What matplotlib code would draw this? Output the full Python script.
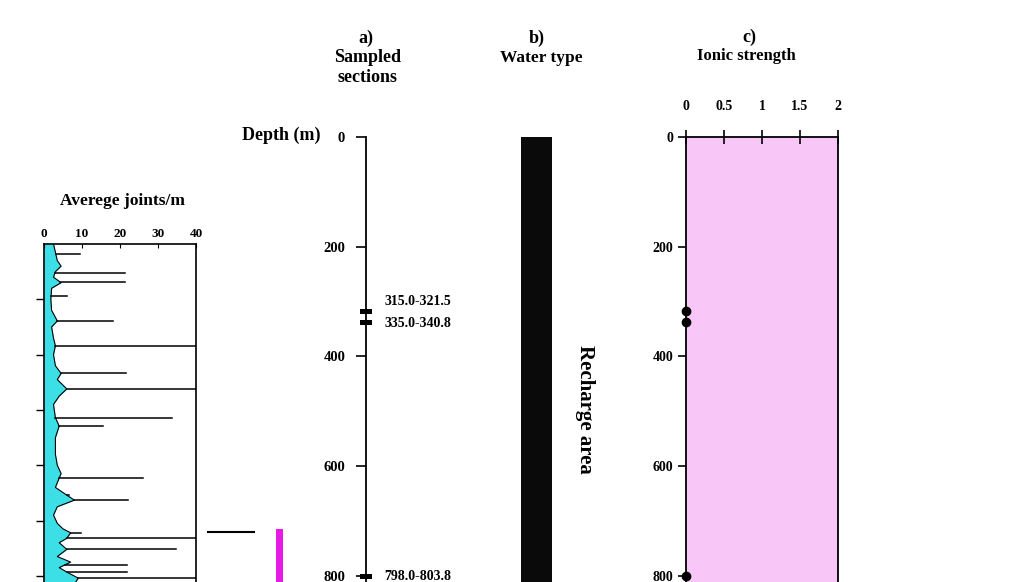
import matplotlib
matplotlib.use("Agg")
from matplotlib import pyplot as plt
from matplotlib.transforms import blended_transform_factory

plt.rcParams['font.family'] = ['Liberation Serif', 'DejaVu Serif']
plt.rcParams['font.weight'] = 'bold'

# joints log (left)
prof_depth = [0, 15, 30, 40, 50, 60, 70, 80, 100, 120, 139, 150, 170, 184, 200, 220, 234, 245,
              262, 275, 290, 314, 329, 350, 380, 400, 415, 423, 440, 454, 463, 475, 490, 505,
              515, 522, 532, 540, 552, 565, 575, 585, 593, 604, 615]
prof_val = [2.5, 3.0, 3.5, 4.5, 3.0, 2.5, 4.5, 2.0, 1.8, 2.0, 3.5, 2.0, 2.5, 3.0, 2.5, 3.0, 4.5, 3.5,
            6.0, 4.0, 2.5, 3.0, 4.0, 3.0, 3.0, 3.5, 4.5, 4.0, 3.0, 6.0, 8.0, 3.5, 2.5, 3.5,
            5.0, 7.0, 6.0, 4.0, 6.0, 3.5, 7.0, 4.0, 6.0, 9.0, 8.0]
spike_depth = [18, 52, 69, 94, 139, 184, 234, 262, 314, 329, 423, 454, 463, 522, 532, 552, 580, 593, 604]
spike_val = [9.5, 21.3, 21.3, 6.0, 18.2, 40, 21.6, 40, 33.6, 15.4, 26, 6.5, 22, 9.8, 40, 34.7, 21.8, 21.8, 40]
joint_ticks = [0, 10, 20, 30, 40]

# a) sampled sections
depth_ticks = [0, 200, 400, 600, 800]
sec_start = [315.0, 335.0, 798.0]
sec_end = [321.5, 340.8, 803.8]
sec_labels = ['315.0-321.5', '335.0-340.8', '798.0-803.8']
label_dy = [7, -1, 0]  # points, to keep the two close labels apart

# c) ionic strength
ion_depth = [318, 338, 800]
ion_val = [0.0, 0.0, 0.0]
ion_ticks = [0, 0.5, 1, 1.5, 2]
ion_ticklabels = ['0', '0.5', '1', '1.5', '2']

W, H = 1024, 582
fig = plt.figure(figsize=(W / 100, H / 100), dpi=100)

def rect(x0, x1, ytop):
    return [x0 / W, 0, (x1 - x0) / W, 1 - ytop / H]

dmax = 811

# ---- left joints log
axj = fig.add_axes(rect(44, 196, 244))
jmax = 611
axj.fill_betweenx(prof_depth, 0, prof_val, color='#3ddfe6', lw=0)
axj.plot(prof_val, prof_depth, color='black', lw=0.8)
for d, v in zip(spike_depth, spike_val):
    pv = 0
    for i in range(len(prof_depth) - 1):
        if prof_depth[i] <= d <= prof_depth[i + 1]:
            t = (d - prof_depth[i]) / (prof_depth[i + 1] - prof_depth[i])
            pv = prof_val[i] + t * (prof_val[i + 1] - prof_val[i])
    axj.plot([pv, v], [d, d], color='black', lw=1.1)
axj.set_xlim(0, 40)
axj.set_ylim(jmax, 0)
axj.xaxis.tick_top()
axj.set_xticks(joint_ticks)
axj.set_xticklabels([str(t) for t in joint_ticks], fontsize=9.5)
axj.tick_params(axis='x', direction='in', length=3, pad=3)
axj.set_yticks([100, 200, 300, 400, 500, 600])
axj.set_yticklabels([])
axj.tick_params(axis='y', direction='out', length=6, width=1)
axj.spines['bottom'].set_visible(False)
for s in ['left', 'right', 'top']:
    axj.spines[s].set_linewidth(1.2)
fig.text(122 / W, 1 - 201 / H, 'Averege joints/m', ha='center', va='center', fontsize=12.5)

# marker line and magenta bar next to log
axm = fig.add_axes(rect(200, 300, 244), sharey=axj)
axm.set_xlim(0, 100)
axm.plot([8, 54], [521, 521], color='black', lw=1.5)
axm.fill_betweenx([516, jmax], 76, 83, color='#e619e6', lw=0)
axm.axis('off')

# ---- a) sampled sections
axa = fig.add_axes(rect(307, 450, 137))
axa.set_xlim(-59, 84)
axa.set_ylim(dmax, 0)
axa.spines['left'].set_position(('data', 0))
for s in ['right', 'top', 'bottom']:
    axa.spines[s].set_visible(False)
axa.spines['left'].set_linewidth(1.3)
axa.set_xticks([])
axa.set_yticks(depth_ticks)
axa.set_yticklabels([str(t) for t in depth_ticks], fontsize=10.5)
axa.tick_params(axis='y', direction='out', length=7, width=1.2, pad=8)
for s0, s1, lab, dy in zip(sec_start, sec_end, sec_labels, label_dy):
    axa.fill_between([-6, 6], s0 - 1.5, s1 + 1.5, color='black', lw=0)
    axa.annotate(lab, xy=(0, (s0 + s1) / 2), xytext=(13, dy), textcoords='offset points',
                 ha='left', va='center', fontsize=10)
fig.text(320 / W, 1 - 135 / H, 'Depth (m)', ha='right', va='center', fontsize=13)
fig.text(366 / W, 1 - 38 / H, 'a)', ha='center', va='center', fontsize=13)
fig.text(368 / W, 1 - 57 / H, 'Sampled', ha='center', va='center', fontsize=13)
fig.text(367 / W, 1 - 77 / H, 'sections', ha='center', va='center', fontsize=13)

# ---- b) water type
axb = fig.add_axes(rect(521, 552, 137))
axb.set_ylim(dmax, 0)
axb.set_xlim(0, 1)
axb.fill_betweenx([0, dmax], 0, 1, color='#0a0a0a', lw=0)
axb.axis('off')
tb = blended_transform_factory(axb.transAxes, axb.transData)
axb.text(2.06, 496, 'Recharge area', rotation=270, ha='center', va='center',
         fontsize=15, transform=tb)
fig.text(537 / W, 1 - 38 / H, 'b)', ha='center', va='center', fontsize=13)
fig.text(541 / W, 1 - 58 / H, 'Water type', ha='center', va='center', fontsize=12.5)

# ---- c) ionic strength
axc = fig.add_axes(rect(686, 838, 137))
axc.set_facecolor('#f9c6f8')
axc.plot(ion_val, ion_depth, 'o', color='black', ms=6, clip_on=False, zorder=5)
axc.set_xlim(0, 2)
axc.set_ylim(dmax, 0)
axc.xaxis.tick_top()
axc.set_xticks(ion_ticks)
axc.set_xticklabels(ion_ticklabels, fontsize=10)
axc.tick_params(axis='x', direction='inout', length=10, width=1.2, pad=12)
axc.set_yticks(depth_ticks)
axc.set_yticklabels([str(t) for t in depth_ticks], fontsize=10)
axc.tick_params(axis='y', direction='out', length=6, width=1.2, pad=3)
axc.spines['bottom'].set_visible(False)
for s in ['left', 'right', 'top']:
    axc.spines[s].set_linewidth(1.3)
fig.text(749 / W, 1 - 37 / H, 'c)', ha='center', va='center', fontsize=13)
fig.text(746 / W, 1 - 56 / H, 'Ionic strength', ha='center', va='center', fontsize=12)

fig.savefig('out.png', dpi=100)
